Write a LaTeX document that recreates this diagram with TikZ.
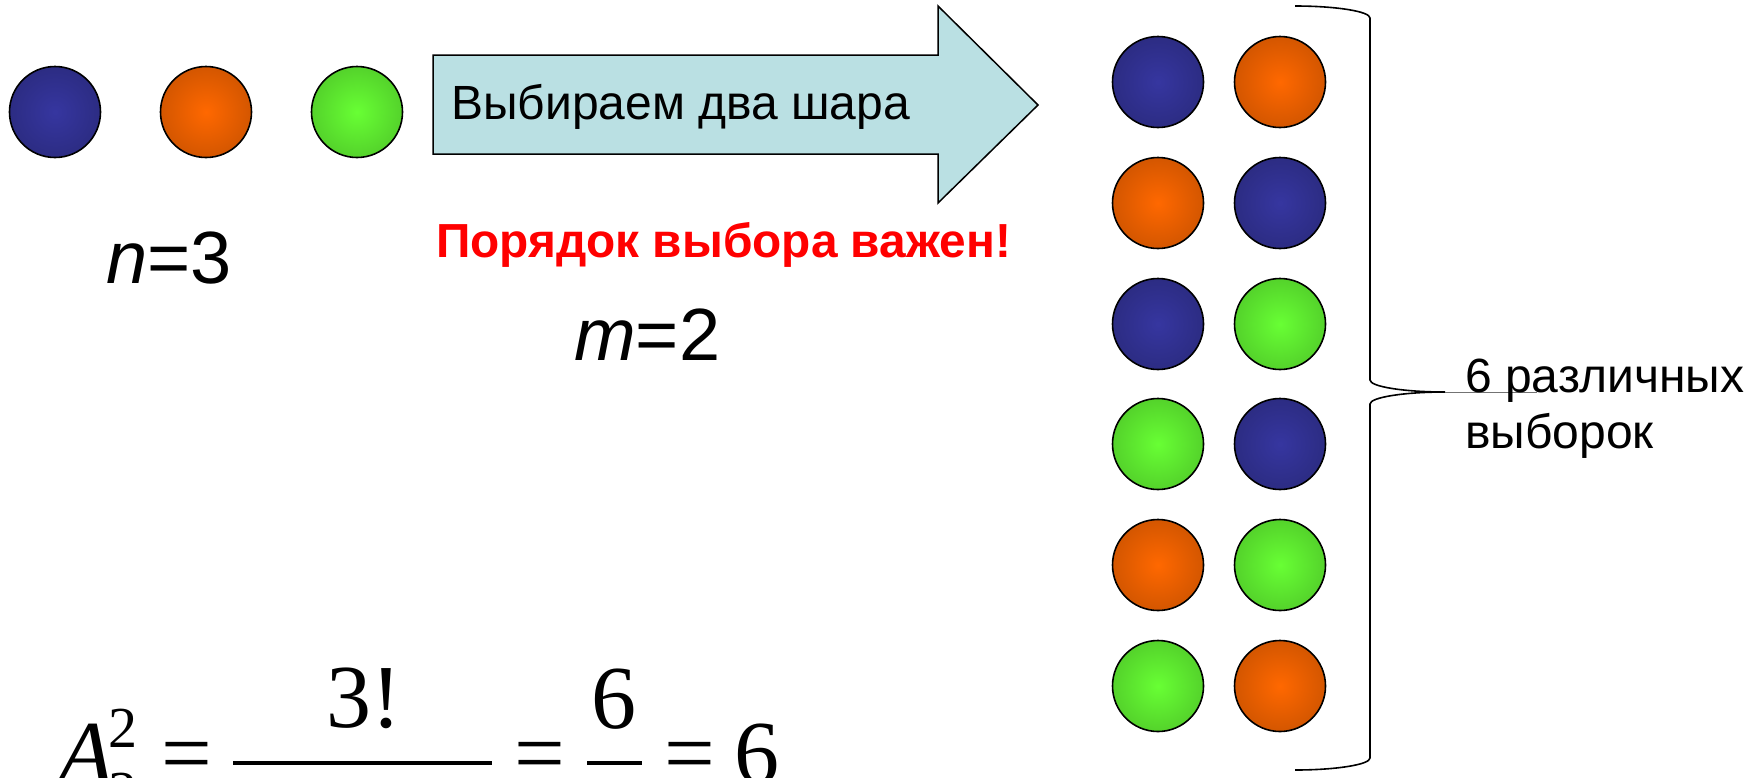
\documentclass[tikz,border=0pt]{standalone}
\usepackage{fontspec}
\setmainfont{Liberation Sans}
\newfontfamily\tnr{Liberation Serif}
\definecolor{bin}{RGB}{54,54,160}
\definecolor{bout}{RGB}{34,34,102}
\definecolor{oin}{RGB}{255,104,0}
\definecolor{oout}{RGB}{168,68,0}
\definecolor{gin}{RGB}{104,255,52}
\definecolor{gout}{RGB}{64,166,34}
\definecolor{arrowfill}{RGB}{186,224,227}
\definecolor{redtxt}{RGB}{255,0,0}
\pgfdeclareradialshading{blueball}{\pgfpoint{0bp}{0bp}}{color(0bp)=(bin); color(50bp)=(bout)}
\pgfdeclareradialshading{orangeball}{\pgfpoint{0bp}{0bp}}{color(0bp)=(oin); color(50bp)=(oout)}
\pgfdeclareradialshading{greenball}{\pgfpoint{0bp}{0bp}}{color(0bp)=(gin); color(50bp)=(gout)}
\begin{document}
\begin{tikzpicture}[x=1pt,y=-1pt,
  ball/.style={circle, draw=black, line width=1.6pt, minimum size=91pt, inner sep=0pt},
  bB/.style={ball, shade, shading=blueball},
  bO/.style={ball, shade, shading=orangeball},
  bG/.style={ball, shade, shading=greenball},
  txt/.style={anchor=base west, inner sep=0pt},
  mth/.style={inner sep=0pt}]
\useasboundingbox (0,0) rectangle (1750,777);
\clip (0,0) rectangle (1750,777);
% top row
\node[bB] (t1) at (55,112) {};
\node[bO] (t2) at (206,112) {};
\node[bG] (t3) at (357,112) {};
\node[txt] (nlab) at (106,283) {\fontsize{74}{80}\selectfont\itshape n\upshape =3};
% arrow
\draw[line width=1.5pt, fill=arrowfill, line join=miter]
  (433,55) -- (938,55) -- (938,6) -- (1038,105) -- (938,203) -- (938,154) -- (433,154) -- cycle;
\node[txt] (atext) at (451,119) {\fontsize{48}{54}\selectfont Выбираем два шара};
\node[txt, text=redtxt] (order) at (436,257) {\fontsize{47.8}{54}\selectfont\bfseries Порядок выбора важен!};
\node[txt] (mlab) at (574,360) {\fontsize{74}{80}\selectfont\itshape m\upshape =2};
% grid of pairs
\node[bB] (r1a) at (1158,82) {};   \node[bO] (r1b) at (1280,82) {};
\node[bO] (r2a) at (1158,203) {};  \node[bB] (r2b) at (1280,203) {};
\node[bB] (r3a) at (1158,324) {};  \node[bG] (r3b) at (1280,324) {};
\node[bG] (r4a) at (1158,444) {};  \node[bB] (r4b) at (1280,444) {};
\node[bO] (r5a) at (1158,565) {};  \node[bG] (r5b) at (1280,565) {};
\node[bG] (r6a) at (1158,686) {};  \node[bO] (r6b) at (1280,686) {};
% brace
\coordinate (btop) at (1295,6);
\coordinate (btip) at (1445,392);
\coordinate (bbot) at (1295,770);
\coordinate (bext) at (1537,392);
\draw[line width=1.6pt]
  (btop) .. controls (1336,6) and (1370,11.4) .. (1370,18)
  -- (1370,380) .. controls (1370,386.6) and (1403.6,392) .. (btip)
  .. controls (1403.6,392) and (1370,397.4) .. (1370,404)
  -- (1370,758) .. controls (1370,764.6) and (1336,770) .. (bbot);
\draw[line width=1pt, black!55] (btip) -- (bext);
\node[txt] (res1) at (1465,392) {\fontsize{48}{54}\selectfont 6 различных};
\node[txt] (res2) at (1465,448) {\fontsize{48}{54}\selectfont выборок};
% formula
\node[txt] (fA) at (58,783) {\fontsize{90}{100}\selectfont\tnr\itshape A};
\node[txt] (fsup) at (108,747) {\fontsize{58}{64}\selectfont\tnr 2};
\node[txt] (fsub) at (108,811) {\fontsize{58}{64}\selectfont\tnr 3};
\node[mth, anchor=base] (eq1) at (187,783) {\fontsize{90}{100}\selectfont\tnr =};
\coordinate (bar1l) at (233,763);
\coordinate (bar1r) at (492,763);
\draw[line width=4pt] (bar1l) -- (bar1r);
\node[mth, anchor=base] (num1) at (364,727) {\fontsize{90}{100}\selectfont\tnr 3!};
\node[mth, anchor=base] (eq2) at (540,783) {\fontsize{90}{100}\selectfont\tnr =};
\coordinate (bar2l) at (587,763);
\coordinate (bar2r) at (642,763);
\draw[line width=4pt] (bar2l) -- (bar2r);
\node[mth, anchor=base] (num2) at (614,728) {\fontsize{90}{100}\selectfont\tnr 6};
\node[mth, anchor=base] (eq3) at (690,783) {\fontsize{90}{100}\selectfont\tnr =};
\node[mth, anchor=base] (res) at (757,783) {\fontsize{90}{100}\selectfont\tnr 6};
\end{tikzpicture}
\end{document}
